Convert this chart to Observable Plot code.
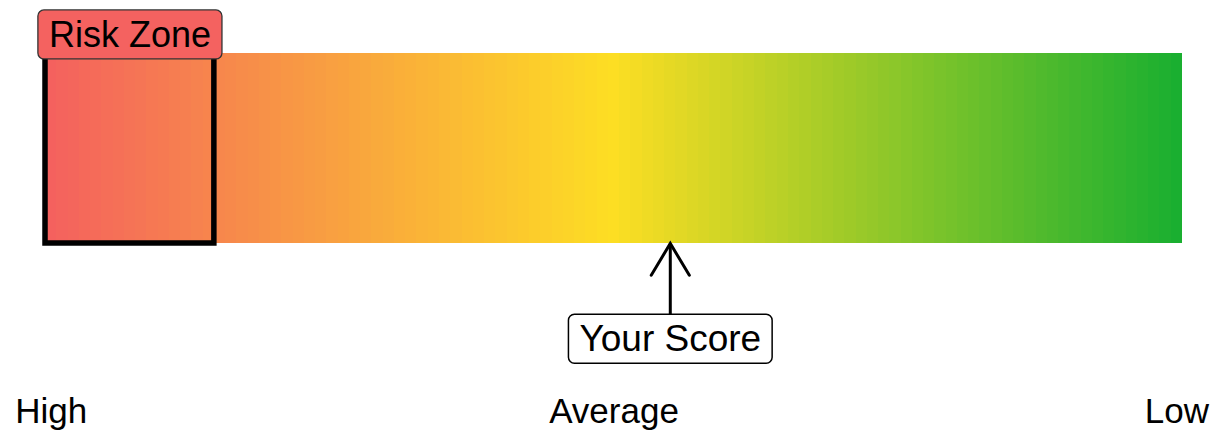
<!DOCTYPE html>
<html><head><meta charset="utf-8">
<script src="https://cdn.jsdelivr.net/npm/d3@7"></script>
<script src="https://cdn.jsdelivr.net/npm/@observablehq/plot@0.6"></script>
<style>html,body{margin:0;padding:0;background:#fff;}</style>
</head><body><div id="chart"></div>
<script>
// ---- data ----
const scoreMin = 0, scoreMax = 100;
const gradientStops = [0, 50, 100];
const gradientColors = ["#F4615E", "#FDDE23", "#1AAF30"];
const riskZone = [{start: -0.5, end: 14.5, label: "Risk Zone"}];
const yourScore = [{score: 55, label: "Your Score"}];
const scaleLabels = ["High", "Average", "Low"];
const scaleLabelPositions = [0, 50, 100];
const tiles = d3.range(scoreMin, scoreMax + 1);
// vertical layout in bar units (0 = bar bottom, 1 = bar top)
const riskLabelY = 1.095, arrowTailY = -0.379, scoreLabelY = -0.505, scaleLabelY = -0.884;

const scaleTable = scaleLabels.map((t, i) => ({label: t, pos: scaleLabelPositions[i]}));

const arrowHead = {
  draw(context, l) {
    const a = Math.PI * 31 / 180;
    context.moveTo(-l * Math.sin(a), l * Math.cos(a));
    context.lineTo(0, 0);
    context.lineTo(l * Math.sin(a), l * Math.cos(a));
  }
};

const plot = Plot.plot({
  width: 1222,
  height: 432,
  margin: 0,
  style: {fontFamily: "'Liberation Sans', Arial, sans-serif", background: "#fff", overflow: "visible"},
  x: {domain: [scoreMin - 0.5, scoreMax + 0.5], range: [45, 1182], axis: null},
  y: {domain: [0, 1], range: [243, 53], axis: null},
  color: {type: "linear", domain: gradientStops, range: gradientColors, interpolate: "rgb"},
  marks: [
    Plot.rect(tiles, {x1: d => d - 0.5, x2: d => d + 0.5, y1: 0, y2: 1, fill: d => d, shapeRendering: "crispEdges"}),
    Plot.rect(riskZone, {x1: "start", x2: "end", y1: 0, y2: 1, fill: "none", stroke: "black", strokeWidth: 5.5}),
    Plot.text(riskZone, {x: d => (d.start + d.end) / 2, y: riskLabelY, text: "label", fontSize: 36, fill: "black"}),
    Plot.link(yourScore, {x1: "score", x2: "score", y1: arrowTailY, y2: 0, stroke: "black", strokeWidth: 3}),
    Plot.vector(yourScore, {x: "score", y: 0, length: 37, anchor: "start", shape: arrowHead, stroke: "black", strokeWidth: 3, strokeLinejoin: "miter"}),
    Plot.text(yourScore, {x: "score", y: scoreLabelY, text: "label", fontSize: 37, fill: "black"}),
    Plot.text(scaleTable, {x: "pos", y: scaleLabelY, text: "label", fontSize: 35, fill: "black"})
  ]
});
document.getElementById("chart").append(plot);

function boxify(content, fill, stroke, sw, padX, padY) {
  d3.select(plot).selectAll("text").filter(function() { return this.textContent === content; }).each(function() {
    const b = this.getBBox();
    const r = document.createElementNS("http://www.w3.org/2000/svg", "rect");
    const tr = this.getAttribute("transform");
    if (tr) r.setAttribute("transform", tr);
    r.setAttribute("x", b.x - padX);
    r.setAttribute("y", b.y - padY);
    r.setAttribute("width", b.width + 2 * padX);
    r.setAttribute("height", b.height + 2 * padY);
    r.setAttribute("rx", 6);
    r.setAttribute("fill", fill);
    r.setAttribute("stroke", stroke);
    r.setAttribute("stroke-width", sw);
    this.parentNode.insertBefore(r, this);
  });
}
boxify(riskZone[0].label, "#F46260", "#333", 1.3, 11, 4);
boxify(yourScore[0].label, "#fff", "#000", 1.5, 11, 4);
</script>
</body></html>
